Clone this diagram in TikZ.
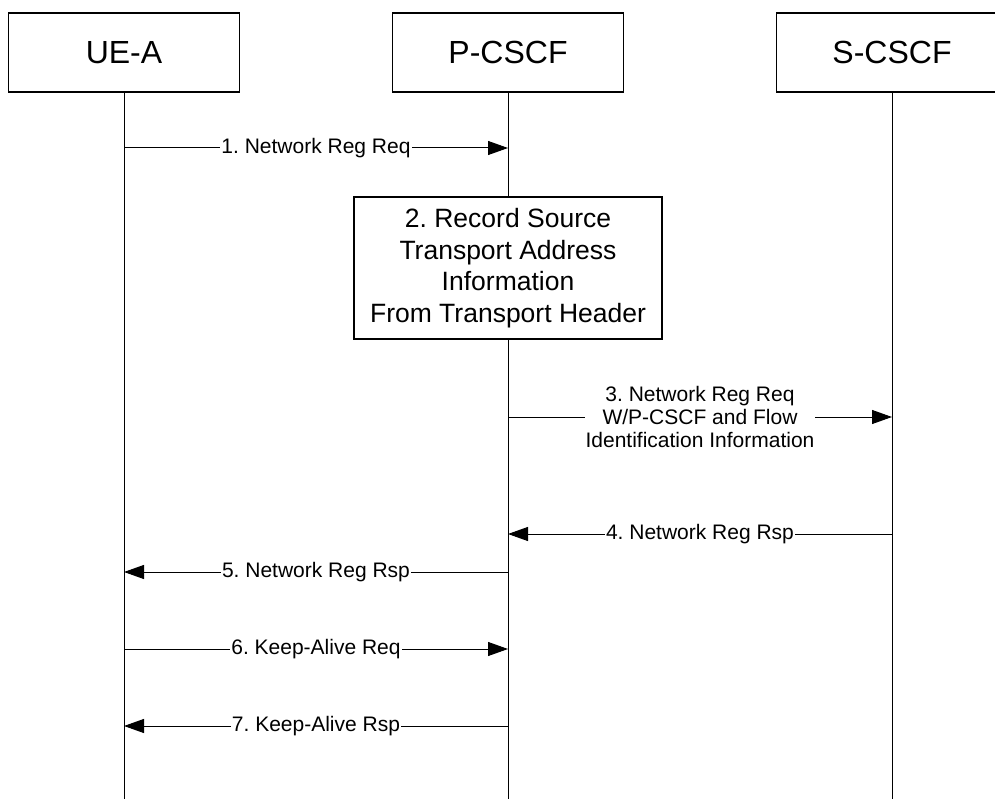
\documentclass[tikz,border=0pt]{standalone}
\usepackage{fontspec}
\setmainfont{Liberation Sans}
\usetikzlibrary{arrows.meta}
\begin{document}
\frenchspacing
\begin{tikzpicture}[x=1pt,y=-1pt,
  hdr/.style={draw, line width=1.8pt, minimum width=231pt, minimum height=79pt, inner sep=0pt, font=\fontsize{32}{38}\selectfont},
  actbox/.style={draw, line width=1.8pt, minimum width=308pt, minimum height=142pt, inner sep=0pt, align=center, font=\fontsize{26.5}{31.5}\selectfont},
  life/.style={line width=1pt},
  msg/.style={line width=1pt, -{Triangle[length=20pt,width=14pt]}},
  lbl/.style={fill=white, inner sep=1pt, align=center, font=\fontsize{21}{23}\selectfont}]
\useasboundingbox (0,0) rectangle (995,799);
\clip (0,0) rectangle (995,799);
\fill[white] (0,0) rectangle (995,799);
% headers
\node[hdr] (ue) at (124,52.5) {UE-A};
\node[hdr] (pc) at (508,52.5) {P-CSCF};
\node[hdr] (sc) at (892,52.5) {S-CSCF};
% action box
\node[actbox] (act) at (508,268) {\frenchspacing 2. Record Source\\Transport Address\\Information\\From Transport Header};
% lifeline ends
\coordinate (ueb) at (124,802);
\coordinate (pcb) at (508,802);
\coordinate (scb) at (892,802);
\draw[life] (ue.south) -- (ueb);
\draw[life] (pc.south) -- (act.north);
\draw[life] (act.south) -- (pcb);
\draw[life] (sc.south) -- (scb);
% message anchor points
\coordinate (u1) at (124,148); \coordinate (p1) at (508,148);
\coordinate (p3) at (508,417); \coordinate (s3) at (892,417);
\coordinate (p4) at (508,534); \coordinate (s4) at (892,534);
\coordinate (u5) at (124,572); \coordinate (p5) at (508,572);
\coordinate (u6) at (124,649); \coordinate (p6) at (508,649);
\coordinate (u7) at (124,726); \coordinate (p7) at (508,726);
% messages
\draw[msg] (u1) -- node[lbl] (m1) {\frenchspacing 1. Network Reg Req} (p1);
\draw[msg] (p3) -- node[lbl] (m3) {\frenchspacing 3. Network Reg Req\\W/P-CSCF and Flow\\Identification Information} (s3);
\draw[msg] (s4) -- node[lbl] (m4) {\frenchspacing 4. Network Reg Rsp} (p4);
\draw[msg] (p5) -- node[lbl] (m5) {\frenchspacing 5. Network Reg Rsp} (u5);
\draw[msg] (u6) -- node[lbl] (m6) {\frenchspacing 6. Keep-Alive Req} (p6);
\draw[msg] (p7) -- node[lbl] (m7) {\frenchspacing 7. Keep-Alive Rsp} (u7);
\end{tikzpicture}
\end{document}
